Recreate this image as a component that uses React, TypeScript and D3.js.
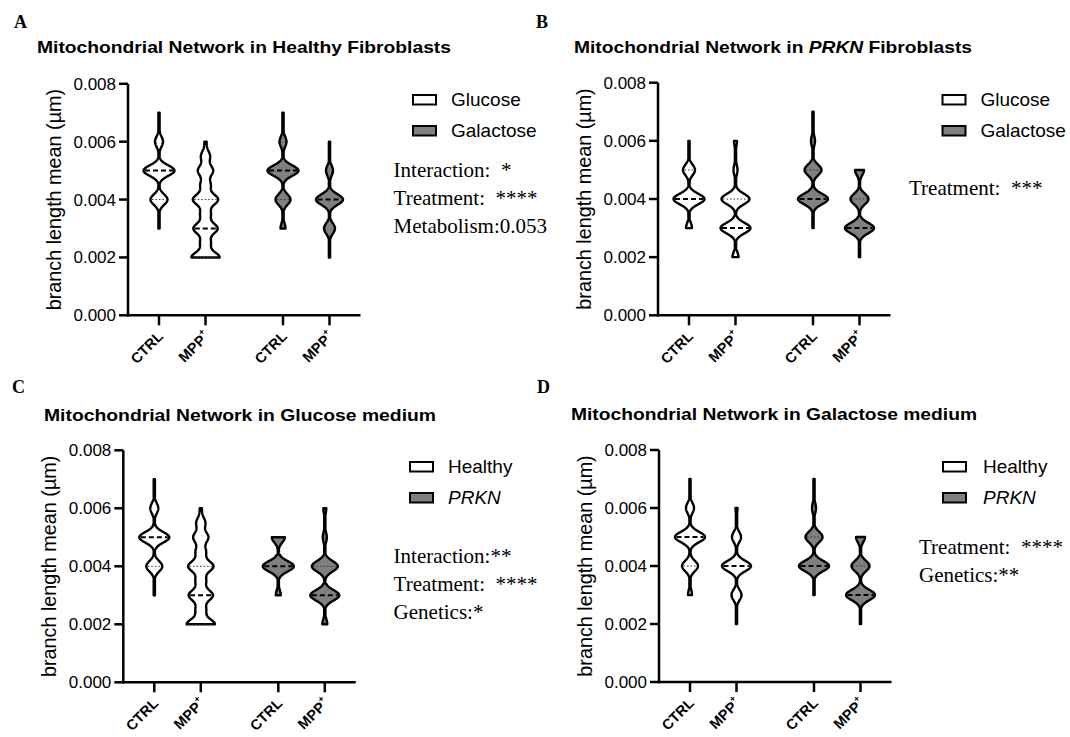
import * as d3 from "d3";

// density at these branch-length levels
const LEVELS = [0.002, 0.0025, 0.003, 0.0035, 0.004, 0.0045, 0.005, 0.0055, 0.006, 0.0065, 0.007];
const Y_TICKS = [0, 0.002, 0.004, 0.006, 0.008];
const GROUPS = ["g1", "g2"];
const CONDITIONS = ["CTRL", "MPP"];

// order in every panel: group1 CTRL, group1 MPP+, group2 CTRL, group2 MPP+
const A_DENSITY = [
  [0, 0, 0, 0, 17, 0, 31, 0, 8, 0, 0],
  [28, 10, 24, 10, 25, 10, 15, 9, 2, 0, 0],
  [0, 0, 5, 0, 15, 0, 31, 0, 7, 0, 0],
  [0, 0, 11, 0, 27, 0, 7, 0, 0, 0, 0],
];
const A_MIN = [0.003, 0.002, 0.003, 0.002];
const A_MAX = [0.007, 0.006, 0.007, 0.006];
const A_MEDIAN = [0.005, 0.003, 0.005, 0.004];
const A_Q1 = [0.004, 0.002, 0.004, 0.004];
const A_Q3 = [0.005, 0.004, 0.005, 0.004];

const B_DENSITY = [
  [0, 0, 6, 0, 31, 0, 12, 0, 0, 0, 0],
  [6, 0, 30, 0, 28, 0, 4, 0, 3, 0, 0],
  [0, 0, 0, 0, 30, 0, 17, 0, 4, 0, 0],
  [0, 0, 29, 0, 18, 0, 9, 0, 0, 0, 0],
];
const B_MIN = [0.003, 0.002, 0.003, 0.002];
const B_MAX = [0.006, 0.006, 0.007, 0.005];
const B_MEDIAN = [0.004, 0.003, 0.004, 0.003];
const B_Q1 = [0.004, 0.003, 0.004, 0.003];
const B_Q3 = [0.005, 0.004, 0.005, 0.004];

const C_DENSITY = [
  [0, 0, 0, 0, 16, 0, 30, 0, 8, 0, 0],
  [28, 10, 24, 10, 25, 10, 15, 9, 2, 0, 0],
  [0, 0, 5, 0, 31, 0, 13, 0, 0, 0, 0],
  [5, 0, 29, 0, 26, 0, 4, 0, 3, 0, 0],
];
const C_MIN = [0.003, 0.002, 0.003, 0.002];
const C_MAX = [0.007, 0.006, 0.005, 0.006];
const C_MEDIAN = [0.005, 0.003, 0.004, 0.003];
const C_Q1 = [0.004, 0.002, 0.004, 0.003];
const C_Q3 = [0.005, 0.004, 0.004, 0.004];

const D_DENSITY = [
  [0, 0, 4, 0, 16, 0, 30, 0, 8, 0, 0],
  [0, 0, 10, 0, 29, 0, 9, 0, 2, 0, 0],
  [0, 0, 0, 0, 30, 0, 17, 0, 4, 0, 0],
  [0, 0, 29, 0, 18, 0, 9, 0, 0, 0, 0],
];
const D_MIN = [0.003, 0.002, 0.003, 0.002];
const D_MAX = [0.007, 0.006, 0.007, 0.005];
const D_MEDIAN = [0.005, 0.004, 0.004, 0.003];
const D_Q1 = [0.004, 0.004, 0.004, 0.003];
const D_Q3 = [0.005, 0.004, 0.005, 0.004];

const GREY = "#808080";
const FILLS = ["#ffffff", "#ffffff", GREY, GREY];
const SANS = "Arial, 'Liberation Sans', sans-serif";
const SERIF = "'Times New Roman', 'Liberation Serif', serif";

type PanelSpec = {
  letter: string;
  letterAt: [number, number];
  title: [string, string, string];
  titleAt: [number, number];
  titleWidth: number;
  axisX: number;
  yTop: number;
  yBottom: number;
  legend: [string, string];
  legendItalic: boolean;
  legendBoxX: number;
  legendTextX: number;
  legendY: [number, number];
  stats: string[];
  statsX: number;
  statsY: number[];
  density: number[][];
  min: number[];
  max: number[];
  median: number[];
  q1: number[];
  q3: number[];
};

const SIGMA = 0.00018;
const widthScale = d3.scaleLinear().domain([0, 32]).range([0, 16]);

function halfWidth(dens: number[], v: number) {
  let s = 0;
  LEVELS.forEach((l, i) => {
    s += dens[i] * Math.exp(-((v - l) ** 2) / (2 * SIGMA * SIGMA));
  });
  return Math.max(widthScale(s), 0.6);
}

function Panel({ p }: { p: PanelSpec }) {
  const y = d3.scaleLinear().domain([0, 0.008]).range([p.yBottom, p.yTop]);
  const axisLen = 232.5;
  const outer = d3.scaleBand().domain(GROUPS).range([p.axisX, p.axisX + axisLen]).paddingInner(0.25).paddingOuter(0.0625);
  const inner = d3.scalePoint().domain(CONDITIONS).range([0, outer.bandwidth()]).padding(0.5);
  const xs: number[] = [];
  GROUPS.forEach((g) => CONDITIONS.forEach((c) => xs.push((outer(g) ?? 0) + (inner(c) ?? 0))));

  return (
    <g>
      <text x={p.letterAt[0]} y={p.letterAt[1]} fontFamily={SERIF} fontWeight="bold" fontSize={18}>{p.letter}</text>
      <text x={p.titleAt[0]} y={p.titleAt[1]} fontFamily={SANS} fontWeight="bold" fontSize={17} textLength={p.titleWidth} lengthAdjust="spacingAndGlyphs">
        {p.title[0]}
        {p.title[1] && <tspan fontStyle="italic">{p.title[1]}</tspan>}
        {p.title[2]}
      </text>

      {/* violins */}
      {xs.map((cx, i) => {
        const dens = p.density[i];
        const vals = d3.range(0, 201).map((k) => p.min[i] + ((p.max[i] - p.min[i]) * k) / 200);
        const area = d3
          .area<number>()
          .y((v) => y(v))
          .x0((v) => cx - halfWidth(dens, v))
          .x1((v) => cx + halfWidth(dens, v));
        const wMed = halfWidth(dens, p.median[i]);
        const quarts = [p.q1[i], p.q3[i]].filter((q) => q !== p.median[i]);
        return (
          <g key={i}>
            <path d={area(vals) ?? ""} fill={FILLS[i]} stroke="#000" strokeWidth={2.4} strokeLinejoin="round" />
            {quarts.map((q, j) => {
              const w = halfWidth(dens, q);
              return <line key={j} x1={cx - w + 1.5} x2={cx + w - 1.5} y1={y(q)} y2={y(q)} stroke="#333" strokeWidth={1} strokeDasharray="1.5 2" />;
            })}
            <line x1={cx - wMed + 1.5} x2={cx + wMed - 1.5} y1={y(p.median[i])} y2={y(p.median[i])} stroke="#000" strokeWidth={2} strokeDasharray="5 3" />
          </g>
        );
      })}

      {/* axes */}
      <line x1={p.axisX} x2={p.axisX} y1={p.yTop} y2={p.yBottom + 1.25} stroke="#000" strokeWidth={2.5} />
      <line x1={p.axisX} x2={p.axisX + axisLen} y1={p.yBottom} y2={p.yBottom} stroke="#000" strokeWidth={2.5} />
      {Y_TICKS.map((t) => (
        <g key={t}>
          <line x1={p.axisX - 9} x2={p.axisX} y1={y(t)} y2={y(t)} stroke="#000" strokeWidth={2.5} />
          <text x={p.axisX - 12} y={y(t)} dy="0.35em" textAnchor="end" fontFamily={SANS} fontSize={17}>{t.toFixed(3)}</text>
        </g>
      ))}
      {xs.map((cx, i) => (
        <g key={i}>
          <line x1={cx} x2={cx} y1={p.yBottom} y2={p.yBottom + 10} stroke="#000" strokeWidth={2.5} />
          <text transform={`translate(${cx + 5},${p.yBottom + 22}) rotate(-45)`} textAnchor="end" fontFamily={SANS} fontWeight="bold" fontSize={14.5}>
            {CONDITIONS[i % 2]}
            {i % 2 === 1 && <tspan fontSize={9} dy="-7">+</tspan>}
          </text>
        </g>
      ))}
      <text transform={`translate(${p.axisX - 67},${(p.yTop + p.yBottom) / 2}) rotate(-90)`} textAnchor="middle" fontFamily={SANS} fontSize={19.8}>
        branch length mean (µm)
      </text>

      {/* legend */}
      {p.legend.map((l, i) => (
        <g key={l}>
          <rect x={p.legendBoxX} y={p.legendY[i] - 11} width={23} height={9.5} fill={i === 0 ? "#fff" : GREY} stroke="#000" strokeWidth={2} />
          <text x={p.legendTextX} y={p.legendY[i]} fontFamily={SANS} fontSize={19} fontStyle={p.legendItalic && i === 1 ? "italic" : "normal"}>{l}</text>
        </g>
      ))}

      {/* statistics */}
      {p.stats.map((s, i) => (
        <text key={i} x={p.statsX} y={p.statsY[i]} fontFamily={SERIF} fontSize={21} style={{ whiteSpace: "pre" }}>{s}</text>
      ))}
    </g>
  );
}

const PANELS: PanelSpec[] = [
  {
    letter: "A", letterAt: [14, 28],
    title: ["Mitochondrial Network in Healthy Fibroblasts", "", ""], titleAt: [37, 53], titleWidth: 414,
    axisX: 128, yTop: 83.8, yBottom: 315.3,
    legend: ["Glucose", "Galactose"], legendItalic: false,
    legendBoxX: 413, legendTextX: 451, legendY: [106, 137],
    stats: ["Interaction:  *", "Treatment:  ****", "Metabolism:0.053"], statsX: 393.6, statsY: [177, 205, 233],
    density: A_DENSITY, min: A_MIN, max: A_MAX, median: A_MEDIAN, q1: A_Q1, q3: A_Q3,
  },
  {
    letter: "B", letterAt: [536, 28],
    title: ["Mitochondrial Network in ", "PRKN", " Fibroblasts"], titleAt: [574, 53], titleWidth: 398,
    axisX: 658, yTop: 82.7, yBottom: 315.3,
    legend: ["Glucose", "Galactose"], legendItalic: false,
    legendBoxX: 942.5, legendTextX: 980.4, legendY: [106, 137],
    stats: ["Treatment:  ***"], statsX: 909, statsY: [195],
    density: B_DENSITY, min: B_MIN, max: B_MAX, median: B_MEDIAN, q1: B_Q1, q3: B_Q3,
  },
  {
    letter: "C", letterAt: [12, 393],
    title: ["Mitochondrial Network in Glucose medium", "", ""], titleAt: [44, 421], titleWidth: 392,
    axisX: 123.3, yTop: 450.3, yBottom: 682.3,
    legend: ["Healthy", "PRKN"], legendItalic: true,
    legendBoxX: 410, legendTextX: 448, legendY: [473, 504],
    stats: ["Interaction:**", "Treatment:  ****", "Genetics:*"], statsX: 393.6, statsY: [563, 591, 619],
    density: C_DENSITY, min: C_MIN, max: C_MAX, median: C_MEDIAN, q1: C_Q1, q3: C_Q3,
  },
  {
    letter: "D", letterAt: [537, 393],
    title: ["Mitochondrial Network in Galactose medium", "", ""], titleAt: [571, 420], titleWidth: 406,
    axisX: 659, yTop: 450, yBottom: 682,
    legend: ["Healthy", "PRKN"], legendItalic: true,
    legendBoxX: 943, legendTextX: 983, legendY: [473, 504],
    stats: ["Treatment:  ****", "Genetics:**"], statsX: 919, statsY: [554, 582],
    density: D_DENSITY, min: D_MIN, max: D_MAX, median: D_MEDIAN, q1: D_Q1, q3: D_Q3,
  },
];

export default function App() {
  return (
    <svg width={1070} height={737} style={{ position: "absolute", left: 0, top: 0, background: "#fff" }}>
      {PANELS.map((p) => (
        <Panel key={p.letter} p={p} />
      ))}
    </svg>
  );
}
